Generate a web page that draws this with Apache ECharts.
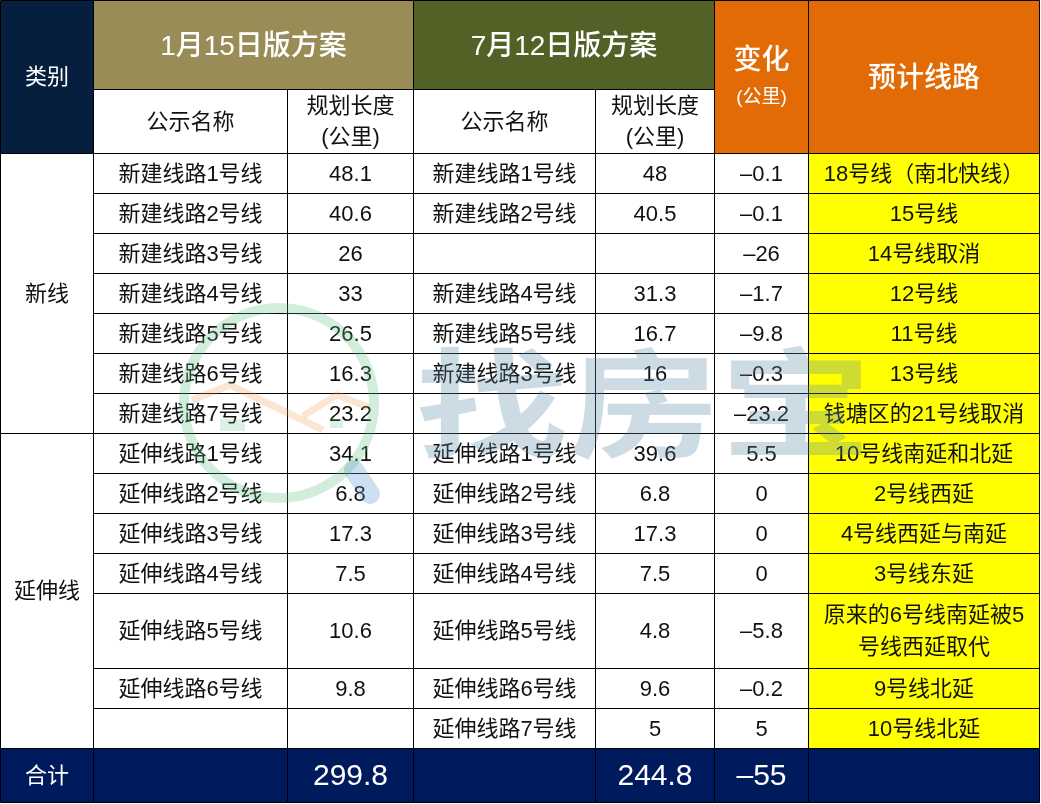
<!DOCTYPE html>
<html>
<head>
<meta charset="utf-8">
<title>线路方案对比</title>
<script src="https://cdn.jsdelivr.net/npm/echarts@6/dist/echarts.min.js"></script>
<style>
html,body{margin:0;padding:0;background:#fff;}
#main{width:1041px;height:804px;}
</style>
</head>
<body>
<div id="main"></div>
<script>
// table content
var plan1Title = '1月15日版方案';
var plan2Title = '7月12日版方案';
var categoryHead = '类别';
var nameHead = '公示名称';
var lengthHead = '规划长度\n(公里)';
var changeHead = '变化';
var changeUnit = '(公里)';
var routeHead = '预计线路';
var totalLabel = '合计';

var groupNames = ['新线', '延伸线'];
var groupSizes = [7, 7];

var oldNames = ['新建线路1号线','新建线路2号线','新建线路3号线','新建线路4号线','新建线路5号线','新建线路6号线','新建线路7号线',
    '延伸线路1号线','延伸线路2号线','延伸线路3号线','延伸线路4号线','延伸线路5号线','延伸线路6号线',''];
var oldLengths = [48.1,40.6,26,33,26.5,16.3,23.2,34.1,6.8,17.3,7.5,10.6,9.8,null];
var newNames = ['新建线路1号线','新建线路2号线','','新建线路4号线','新建线路5号线','新建线路3号线','',
    '延伸线路1号线','延伸线路2号线','延伸线路3号线','延伸线路4号线','延伸线路5号线','延伸线路6号线','延伸线路7号线'];
var newLengths = [48,40.5,null,31.3,16.7,16,null,39.6,6.8,17.3,7.5,4.8,9.6,5];
var changes = [-0.1,-0.1,-26,-1.7,-9.8,-0.3,-23.2,5.5,0,0,0,-5.8,-0.2,5];
var routes = ['18号线（南北快线）','15号线','14号线取消','12号线','11号线','13号线','钱塘区的21号线取消',
    '10号线南延和北延','2号线西延','4号线西延与南延','3号线东延','原来的6号线南延被5\n号线西延取代','9号线北延','10号线北延'];
var totals = [299.8, 244.8, -55];

// layout: edges of columns and rows, in axis units
var colEdges = [0.5, 93.5, 287.5, 413.5, 595.5, 714.5, 808.5, 1039.5];
var rowEdges = [0.5, 89.5, 153.5, 193.5, 233.5, 273.5, 313.5, 353.5, 393.5, 433.5, 473.5, 513.5, 553.5, 593.5, 668.5, 708.5, 748.5, 802.5];

var FONT = '"Liberation Sans","Noto Sans CJK SC",sans-serif';
var NAVY_TOP = '#061f3f', NAVY_BOTTOM = '#001a5e', OLIVE = '#998c57', GREEN = '#526126', ORANGE = '#e26b05', YELLOW = '#ffff00';

function fmt(v) {
    if (v === null) return '';
    return v < 0 ? '–' + Math.abs(v) : String(v);
}

var cells = [];
function addCell(c0, c1, r0, r1, text, fill, color, size, lineHeight, weight, dy) {
    cells.push({c0: c0, c1: c1, r0: r0, r1: r1, text: text, fill: fill, color: color || '#111', size: size || 22,
        lh: lineHeight || 32, weight: weight || 'normal', dy: dy === undefined ? 1 : dy});
}

// header
addCell(0, 1, 0, 2, categoryHead, NAVY_TOP, '#fff', 22);
addCell(1, 3, 0, 1, plan1Title, OLIVE, '#fff', 28, 32, 500, 2);
addCell(3, 5, 0, 1, plan2Title, GREEN, '#fff', 28, 32, 500, 2);
addCell(5, 6, 0, 2, '{a|' + changeHead + '}\n{b|' + changeUnit + '}', ORANGE, '#fff', 28, 36, 500, 3);
addCell(6, 7, 0, 2, routeHead, ORANGE, '#fff', 28, 32, 500, 2);
addCell(1, 2, 1, 2, nameHead, '#fff');
addCell(2, 3, 1, 2, lengthHead, '#fff', null, 22, 31);
addCell(3, 4, 1, 2, nameHead, '#fff');
addCell(4, 5, 1, 2, lengthHead, '#fff', null, 22, 31);

// body rows
var rowStart = 2;
groupNames.forEach(function (name, g) {
    var before = groupSizes.slice(0, g).reduce(function (a, b) { return a + b; }, 0);
    addCell(0, 1, rowStart + before, rowStart + before + groupSizes[g], name, '#fff');
});
oldNames.forEach(function (n, i) {
    var r = rowStart + i;
    addCell(1, 2, r, r + 1, oldNames[i], '#fff');
    addCell(2, 3, r, r + 1, fmt(oldLengths[i]), '#fff');
    addCell(3, 4, r, r + 1, newNames[i], '#fff');
    addCell(4, 5, r, r + 1, fmt(newLengths[i]), '#fff');
    addCell(5, 6, r, r + 1, fmt(changes[i]), '#fff');
    addCell(6, 7, r, r + 1, routes[i], YELLOW);
});

// total row
var lastRow = rowStart + oldNames.length;
addCell(0, 1, lastRow, lastRow + 1, totalLabel, NAVY_BOTTOM, '#fff', 22);
addCell(1, 2, lastRow, lastRow + 1, '', NAVY_BOTTOM);
addCell(2, 3, lastRow, lastRow + 1, fmt(totals[0]), NAVY_BOTTOM, '#fff', 30);
addCell(3, 4, lastRow, lastRow + 1, '', NAVY_BOTTOM);
addCell(4, 5, lastRow, lastRow + 1, fmt(totals[1]), NAVY_BOTTOM, '#fff', 30);
addCell(5, 6, lastRow, lastRow + 1, fmt(totals[2]), NAVY_BOTTOM, '#fff', 30);
addCell(6, 7, lastRow, lastRow + 1, '', NAVY_BOTTOM);

function renderCell(params, api) {
    var c = cells[params.dataIndex];
    var p0 = api.coord([colEdges[c.c0], rowEdges[c.r0]]);
    var p1 = api.coord([colEdges[c.c1], rowEdges[c.r1]]);
    return {
        type: 'group',
        children: [{
            type: 'rect',
            shape: {x: p0[0], y: p0[1], width: p1[0] - p0[0], height: p1[1] - p0[1]},
            style: {fill: c.fill, stroke: '#000', lineWidth: 1}
        }, {
            type: 'text',
            z2: 5,
            style: {
                x: (p0[0] + p1[0]) / 2,
                y: (p0[1] + p1[1]) / 2 + c.dy,
                text: c.text,
                align: 'center',
                verticalAlign: 'middle',
                fontFamily: FONT,
                fontSize: c.size,
                fontWeight: c.weight,
                lineHeight: c.lh,
                fill: c.color,
                rich: {
                    a: {fontFamily: FONT, fontSize: 28, fontWeight: 500, lineHeight: 36, fill: '#fff'},
                    b: {fontFamily: FONT, fontSize: 19, lineHeight: 37, fill: '#fff'}
                }
            }
        }]
    };
}

var myChart = echarts.init(document.getElementById('main'));

var option = {
    animation: false,
    backgroundColor: '#fff',
    grid: {left: 0, right: 0, top: 0, bottom: 0},
    xAxis: {type: 'value', min: 0, max: 1041, show: false},
    yAxis: {type: 'value', min: 0, max: 804, inverse: true, show: false},
    series: [{
        type: 'custom',
        clip: false,
        silent: true,
        renderItem: renderCell,
        data: cells.map(function (c, i) { return [i]; })
    }],
    // watermark sits over the table
    graphic: {
        elements: [
            {type: 'circle', z: 100, silent: true, shape: {cx: 279, cy: 403, r: 95},
                style: {fill: 'none', stroke: 'rgba(95,190,130,0.28)', lineWidth: 10}},
            {type: 'polyline', z: 100, silent: true, shape: {points: [[192, 400], [230, 385], [323, 430]]},
                style: {fill: 'none', stroke: 'rgba(240,150,80,0.25)', lineWidth: 7}},
            {type: 'polyline', z: 100, silent: true, shape: {points: [[303, 416], [337, 395], [368, 407]]},
                style: {fill: 'none', stroke: 'rgba(240,150,80,0.25)', lineWidth: 7}},
            {type: 'rect', z: 100, silent: true, shape: {x: 220, y: 419, width: 25, height: 12},
                style: {fill: 'rgba(95,190,130,0.22)'}},
            {type: 'rect', z: 100, silent: true, shape: {x: 330, y: 419, width: 13, height: 9},
                style: {fill: 'rgba(95,190,130,0.22)'}},
            {type: 'line', z: 100, silent: true, shape: {x1: 354, y1: 470, x2: 370, y2: 494},
                style: {stroke: 'rgba(90,150,205,0.3)', lineWidth: 20, lineCap: 'round'}},
            {type: 'text', z: 100, silent: true, x: 416, y: 403, scaleY: 0.78,
                style: {text: '找房宝', fontFamily: '"Noto Sans CJK SC"', fontWeight: 'bold', fontSize: 152,
                    fill: 'rgba(90,135,170,0.3)', verticalAlign: 'middle', align: 'left'}}
        ]
    }
};

myChart.setOption(option);
window.onresize = myChart.resize;
</script>
</body>
</html>
